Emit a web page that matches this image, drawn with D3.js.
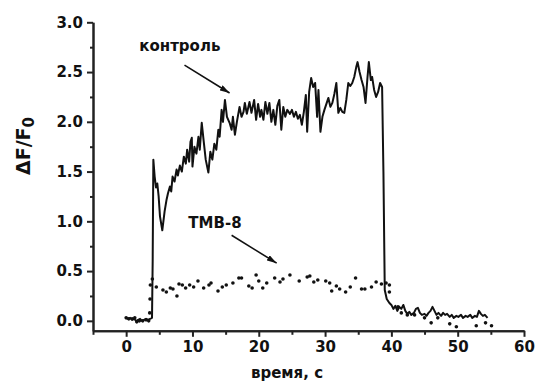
<!DOCTYPE html>
<html>
<head>
<meta charset="utf-8">
<script src="https://cdn.jsdelivr.net/npm/d3@7"></script>
<style>
  body { margin: 0; background: #fff; }
  svg { display: block; }
  .axis path, .axis line { stroke: #222; stroke-width: 2; }
  .axis text { font-family: "DejaVu Sans", sans-serif; font-weight: bold; font-size: 15px; fill: #111; }
  .lbl { font-family: "DejaVu Sans", sans-serif; font-weight: bold; fill: #111; }
</style>
</head>
<body>
<svg id="chart" width="536" height="381"></svg>
<script>
// control trace (time, s / dF/F0)
var controlTime = [0.0,0.3,0.6,0.9,1.2,1.5,1.8,2.1,2.4,2.7,3.0,3.3,3.6,3.9,4.0,4.1,4.3,4.5,4.7,4.9,5.1,5.45,5.8,6.1,6.3,6.6,6.8,7.0,7.3,7.6,7.8,8.1,8.4,8.7,9.0,9.2,9.5,9.7,9.9,10.0,10.3,10.6,10.9,11.1,11.4,11.7,12.0,12.4,12.7,13.0,13.3,13.6,13.9,14.1,14.4,14.6,14.9,15.2,15.6,15.9,16.1,16.4,16.7,17.1,17.4,17.7,17.9,18.2,18.6,18.9,19.3,19.6,19.9,20.2,20.4,20.7,21.0,21.3,21.6,21.9,22.2,22.5,22.8,23.1,23.4,23.7,24.0,24.3,24.7,25.0,25.3,25.6,25.9,26.2,26.5,26.8,27.1,27.3,27.6,27.9,28.2,28.5,28.8,29.0,29.3,29.6,29.9,30.2,30.5,30.8,31.1,31.4,31.7,32.0,32.3,32.6,32.9,33.2,33.5,33.8,34.1,34.4,34.7,34.9,35.2,35.5,35.8,36.1,36.4,36.6,36.9,37.1,37.4,37.7,38.0,38.3,38.6,38.8,39.0,39.3,39.7,40.0,40.3,40.6,40.9,41.2,41.5,41.8,42.1,42.4,42.7,43.0,43.4,43.7,44.0,44.3,44.6,45.0,45.3,45.6,45.9,46.2,46.5,46.8,47.1,47.5,47.8,48.1,48.4,48.8,49.1,49.4,49.8,50.1,50.5,50.8,51.2,51.5,51.9,52.2,52.6,52.9,53.2,53.5,53.8,54.1,54.5];
var controlVal = [0.03,0.02,0.03,0.01,0.02,0.00,0.01,0.02,0.00,0.01,0.02,0.01,0.02,0.03,0.60,1.62,1.45,1.34,1.38,1.25,1.05,0.91,1.10,1.22,1.28,1.35,1.30,1.45,1.40,1.52,1.46,1.56,1.50,1.65,1.58,1.72,1.60,1.80,1.84,1.55,1.75,1.68,1.85,1.72,1.99,1.80,1.62,1.49,1.70,1.62,1.78,1.72,1.92,1.85,2.12,2.00,2.22,2.05,1.99,1.92,2.05,1.87,2.00,2.15,2.05,2.10,2.19,2.08,2.20,2.09,2.22,2.02,2.18,2.05,2.12,2.02,2.20,2.08,2.19,2.00,2.12,1.97,2.16,2.22,1.92,2.15,2.05,2.12,2.08,2.12,2.05,2.10,2.03,2.07,1.97,2.10,2.27,1.90,2.30,2.44,2.35,2.39,2.05,2.32,1.90,2.05,2.12,2.18,2.24,2.15,2.19,2.28,2.39,2.09,2.14,2.10,2.09,2.22,2.39,2.36,2.39,2.45,2.55,2.60,2.50,2.42,2.35,2.19,2.45,2.60,2.42,2.45,2.32,2.25,2.30,2.39,2.35,1.50,0.31,0.22,0.18,0.16,0.12,0.15,0.10,0.14,0.12,0.16,0.10,0.07,0.09,0.06,0.08,0.12,0.13,0.08,0.06,0.07,0.05,0.08,0.10,0.14,0.10,0.06,0.08,0.05,0.08,0.06,0.07,0.04,0.06,0.03,0.05,0.04,0.06,0.03,0.05,0.04,0.06,0.03,0.05,0.04,0.10,0.07,0.05,0.06,0.03];

// TMB-8 trace (dots)
var tmbTime = [0.0,0.4,0.9,1.3,1.6,2.0,2.5,3.0,3.4,3.55,3.6,3.65,3.95,4.55,5.55,6.06,6.66,7.06,7.66,7.97,8.47,8.97,9.58,10.18,10.83,11.69,12.49,12.8,13.85,14.5,15.1,16.1,17.0,17.4,18.5,19.0,19.6,20.0,20.6,21.2,22.4,23.2,23.65,24.7,26.1,27.3,27.7,28.3,28.9,30.1,30.7,31.0,31.7,32.2,33.1,33.8,34.6,35.5,36.0,37.0,37.7,38.5,39.2,39.7,39.7,41.0,41.5,42.4,43.5,45.0,46.0,47.0,48.8,49.8,52.8,54.2,55.1];
var tmbVal = [0.03,0.02,0.02,0.03,-0.01,0.00,0.00,0.01,0.00,0.08,0.22,0.36,0.42,0.34,0.31,0.29,0.33,0.32,0.25,0.37,0.36,0.33,0.36,0.34,0.40,0.33,0.36,0.38,0.30,0.34,0.36,0.38,0.43,0.43,0.35,0.33,0.46,0.40,0.33,0.38,0.43,0.39,0.42,0.46,0.40,0.44,0.45,0.39,0.41,0.40,0.38,0.30,0.35,0.32,0.29,0.34,0.43,0.32,0.32,0.34,0.39,0.37,0.38,0.36,0.29,0.14,0.08,0.06,0.06,0.03,-0.02,0.03,-0.03,-0.06,-0.05,-0.02,-0.05];

var xMajor = [0, 10, 20, 30, 40, 50, 60];
var xMinor = [-5, 5, 15, 25, 35, 45, 55];
var yMajor = [0, 0.5, 1.0, 1.5, 2.0, 2.5, 3.0];
var yMinor = [0.25, 0.75, 1.25, 1.75, 2.25, 2.75];

var svg = d3.select("#chart");

var x = d3.scaleLinear().domain([-5, 60]).range([93, 524]);
var y = d3.scaleLinear().domain([-0.1, 3.0]).range([330.8, 22.3]);

// axes
svg.append("g").attr("class", "axis")
  .attr("transform", "translate(0," + y(-0.1) + ")")
  .call(d3.axisBottom(x).tickValues(xMinor).tickSize(4).tickSizeOuter(0).tickFormat(""));
svg.append("g").attr("class", "axis")
  .attr("transform", "translate(0," + y(-0.1) + ")")
  .call(d3.axisBottom(x).tickValues(xMajor).tickSize(6).tickSizeOuter(0).tickPadding(5).tickFormat(d3.format("d")));

svg.append("g").attr("class", "axis")
  .attr("transform", "translate(" + x(-5) + ",0)")
  .call(d3.axisLeft(y).tickValues(yMinor).tickSize(3).tickSizeOuter(0).tickFormat(""));
svg.append("g").attr("class", "axis")
  .attr("transform", "translate(" + x(-5) + ",0)")
  .call(d3.axisLeft(y).tickValues(yMajor).tickSize(6).tickSizeOuter(0).tickPadding(4).tickFormat(d3.format(".1f")));

// control line
var ctrl = controlTime.map(function(t, i) { return [t, controlVal[i]]; });
var line = d3.line().x(function(d) { return x(d[0]); }).y(function(d) { return y(d[1]); });
svg.append("path")
  .datum(ctrl)
  .attr("d", line)
  .attr("fill", "none")
  .attr("stroke", "#111")
  .attr("stroke-width", 2)
  .attr("stroke-linejoin", "round");

// TMB-8 dots
var tmb = tmbTime.map(function(t, i) { return [t, tmbVal[i]]; });
svg.selectAll(".dot")
  .data(tmb)
  .enter().append("circle")
  .attr("class", "dot")
  .attr("cx", function(d) { return x(d[0]); })
  .attr("cy", function(d) { return y(d[1]); })
  .attr("r", 1.8)
  .attr("fill", "#111");

// annotations
var defs = svg.append("defs");
defs.append("marker")
  .attr("id", "head")
  .attr("viewBox", "0 0 10 6")
  .attr("refX", 10).attr("refY", 3)
  .attr("markerWidth", 10).attr("markerHeight", 6)
  .attr("markerUnits", "userSpaceOnUse")
  .attr("orient", "auto")
  .append("path").attr("d", "M0,0 L10,3 L0,6 Z").attr("fill", "#111");

svg.append("text").attr("class", "lbl")
  .attr("x", x(8.1)).attr("y", y(2.71))
  .attr("text-anchor", "middle").attr("font-size", 15)
  .text("контроль");
svg.append("line")
  .attr("x1", x(8.8)).attr("y1", y(2.57))
  .attr("x2", x(15.6)).attr("y2", y(2.29))
  .attr("stroke", "#111").attr("stroke-width", 1.6)
  .attr("marker-end", "url(#head)");

svg.append("text").attr("class", "lbl")
  .attr("x", x(13.4)).attr("y", y(0.93))
  .attr("text-anchor", "middle").attr("font-size", 15)
  .text("ТМВ-8");
svg.append("line")
  .attr("x1", x(15.9)).attr("y1", y(0.86))
  .attr("x2", x(22.7)).attr("y2", y(0.58))
  .attr("stroke", "#111").attr("stroke-width", 1.6)
  .attr("marker-end", "url(#head)");

// axis titles
var yl = svg.append("text").attr("class", "lbl")
  .attr("transform", "translate(30,146) rotate(-90)")
  .attr("text-anchor", "middle").attr("font-size", 19);
yl.append("tspan").text("ΔF/F");
yl.append("tspan").attr("font-size", 15).attr("dy", 4).text("0");

svg.append("text").attr("class", "lbl")
  .attr("x", 287).attr("y", 378)
  .attr("text-anchor", "middle").attr("font-size", 15)
  .text("время, с");
</script>
</body>
</html>
